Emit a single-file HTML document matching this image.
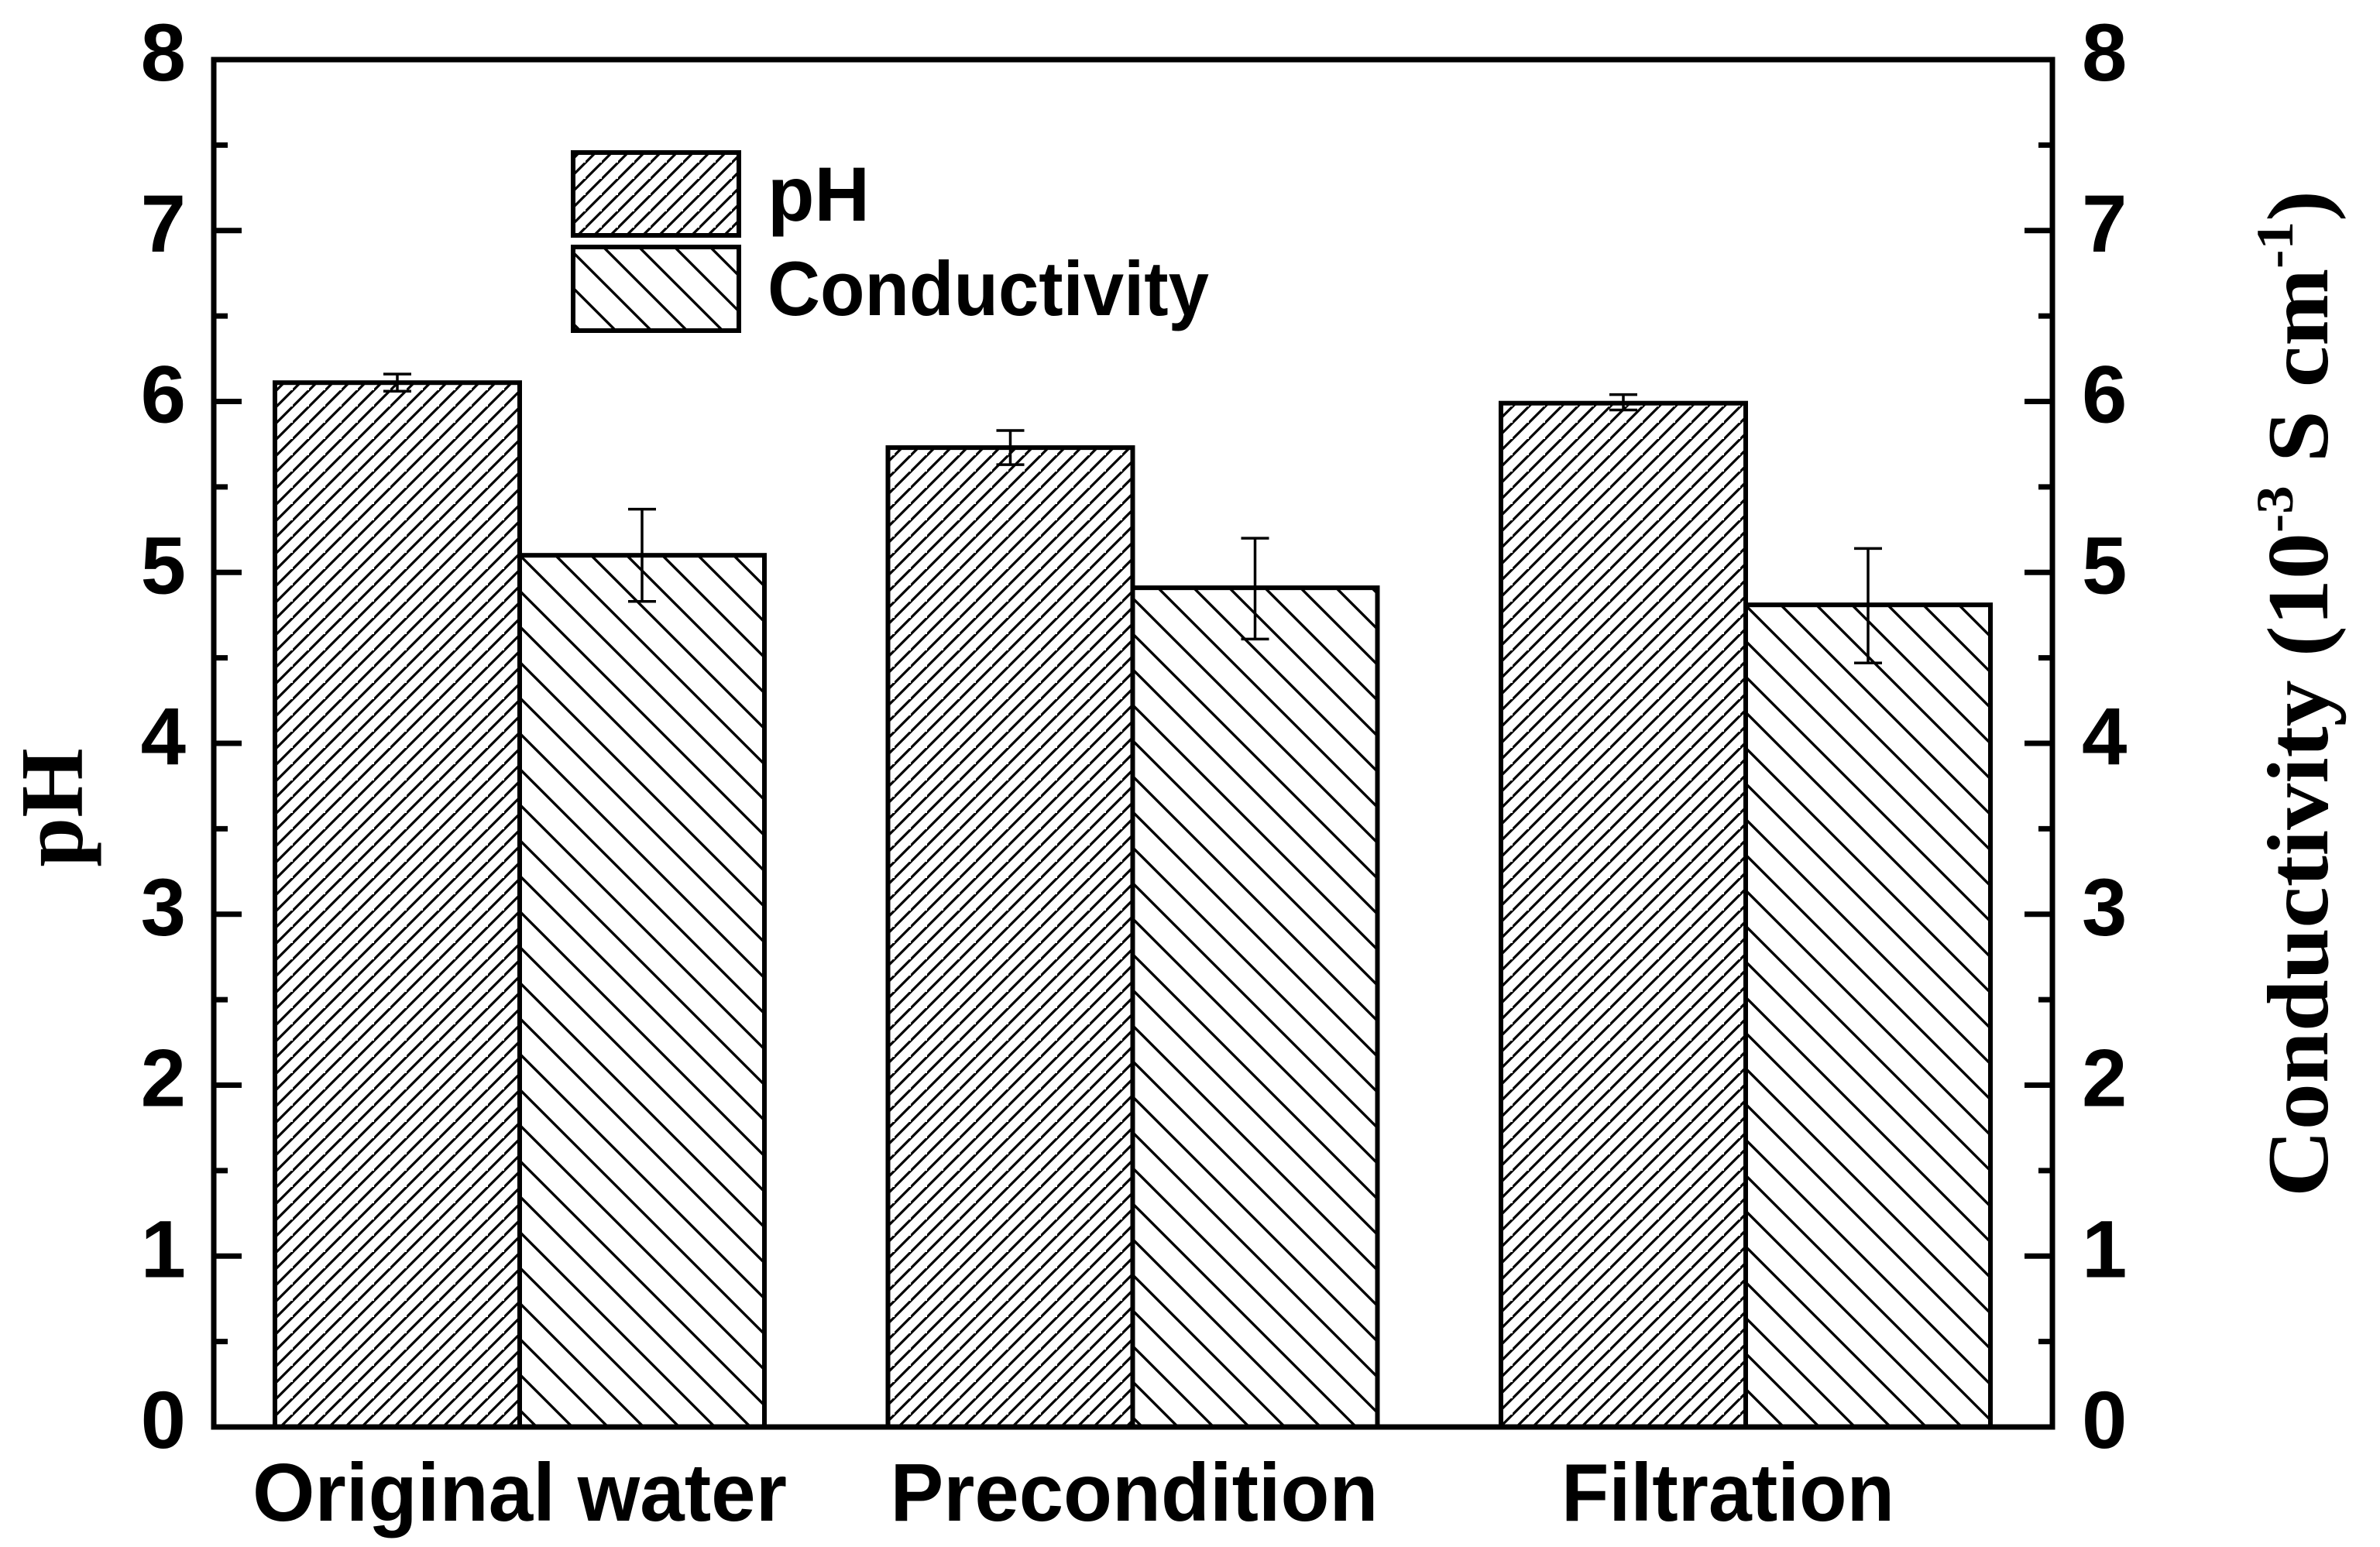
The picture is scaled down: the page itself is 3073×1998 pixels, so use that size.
<!DOCTYPE html>
<html><head><meta charset="utf-8"><style>
html,body{margin:0;padding:0;background:#fff;}
svg{display:block;}
</style></head><body>
<svg id="chart" width="3073" height="1998" viewBox="0 0 3073 1998" xmlns="http://www.w3.org/2000/svg">
<defs>
<pattern id="hatchPH" patternUnits="userSpaceOnUse" width="21" height="21">
<rect width="21" height="21" fill="#fff"/>
<path d="M-5,26 L26,-5 M-26,26 L5,-5 M16,47 L47,16" stroke="#000" stroke-width="3.2"/>
</pattern>
<pattern id="hatchCond" patternUnits="userSpaceOnUse" width="46" height="46">
<rect width="46" height="46" fill="#fff"/>
<path d="M-5,-5 L51,51 M-51,-5 L5,51 M41,-5 L97,51 M-5,41 L5,51 M41,-51 L97,5" stroke="#000" stroke-width="3.4"/>
</pattern>
</defs>
<g id="plot"></g>
</svg>
<script>
const categories = ["Original water", "Precondition", "Filtration"];
const phValues = [6.11, 5.73, 5.99];
const phErrLow = [6.06, 5.63, 5.95];
const phErrHigh = [6.16, 5.83, 6.04];
const condValues = [5.10, 4.91, 4.81];
const condErrLow = [4.83, 4.61, 4.47];
const condErrHigh = [5.37, 5.20, 5.14];
const yTicks = [0, 1, 2, 3, 4, 5, 6, 7, 8];

const NS = "http://www.w3.org/2000/svg";
const g = document.getElementById("plot");
const L = 276, R = 2650, T = 77, B = 1843;
const yMin = 0, yMax = 8;
function y(v){ return B - (v - yMin) / (yMax - yMin) * (B - T); }
const firstCenter = 671, catStep = 791.5, barW = 316;
function xc(i){ return firstCenter + i * catStep; }
const labelW = [690, 630, 430];
const labelShift = [0, 2, -23];
function mk(tag, attrs, parent){
  const e = document.createElementNS(NS, tag);
  for (const k in attrs) e.setAttribute(k, attrs[k]);
  (parent || g).appendChild(e);
  return e;
}

categories.forEach((c, i) => {
  const cx = xc(i);
  const b1 = mk("rect", {x: cx - barW, y: y(phValues[i]), width: barW, height: y(0) - y(phValues[i]), fill: "url(#hatchPH)", stroke: "#000", "stroke-width": 6});
  
  
  const b2 = mk("rect", {x: cx, y: y(condValues[i]), width: barW, height: y(0) - y(condValues[i]), fill: "url(#hatchCond)", stroke: "#000", "stroke-width": 6});
  
  
  [[cx - barW/2, phErrLow[i], phErrHigh[i], 'ph'], [cx + barW/2, condErrLow[i], condErrHigh[i], 'conductivity']].forEach(([ex, lo, hi, nm]) => {
    const eg = mk("g", {stroke: "#000", "stroke-width": 3.5});
    
    
    mk("line", {x1: ex, x2: ex, y1: y(lo), y2: y(hi)}, eg);
    mk("line", {x1: ex - 18, x2: ex + 18, y1: y(lo), y2: y(lo)}, eg);
    mk("line", {x1: ex - 18, x2: ex + 18, y1: y(hi), y2: y(hi)}, eg);
  });
  const t = mk("text", {x: cx + labelShift[i], y: 1964, "text-anchor": "middle", "font-family": "Liberation Sans, Arial, sans-serif", "font-weight": "bold", "font-size": 106, textLength: labelW[i], lengthAdjust: "spacingAndGlyphs"});
  t.textContent = c;
  
  
});

const frame = mk("rect", {x: L, y: T, width: R - L, height: B - T, fill: "none", stroke: "#000", "stroke-width": 7});



yTicks.forEach(v => {
  mk("line", {x1: L, x2: L + 36, y1: y(v), y2: y(v), stroke: "#000", "stroke-width": 7});
  mk("line", {x1: R, x2: R - 36, y1: y(v), y2: y(v), stroke: "#000", "stroke-width": 7});
  if (v < 8) {
    mk("line", {x1: L, x2: L + 18, y1: y(v + 0.5), y2: y(v + 0.5), stroke: "#000", "stroke-width": 7});
    mk("line", {x1: R, x2: R - 18, y1: y(v + 0.5), y2: y(v + 0.5), stroke: "#000", "stroke-width": 7});
  }
  const tl = mk("text", {x: 240, y: y(v) + 27, "text-anchor": "end", "font-family": "Liberation Sans, Arial, sans-serif", "font-weight": "bold", "font-size": 105});
  tl.textContent = v;
  
  
  const tr = mk("text", {x: 2688, y: y(v) + 27, "text-anchor": "start", "font-family": "Liberation Sans, Arial, sans-serif", "font-weight": "bold", "font-size": 105});
  tr.textContent = v;
  
  
});

const yl = mk("text", {x: 0, y: 0, transform: "translate(106,1043) rotate(-90)", "text-anchor": "middle", "font-family": "Liberation Serif, Times New Roman, serif", "font-weight": "bold", "font-size": 115});
yl.textContent = "pH";



const yr = mk("text", {x: 0, y: 0, transform: "translate(3005,896) rotate(-90)", "text-anchor": "middle", "font-family": "Liberation Serif, Times New Roman, serif", "font-weight": "bold", "font-size": 112, textLength: 1300, lengthAdjust: "spacingAndGlyphs"});
yr.innerHTML = 'Conductivity (10<tspan dy="-45" font-size="68">-3</tspan><tspan dy="45"> S cm</tspan><tspan dy="-45" font-size="68">-1</tspan><tspan dy="45">)</tspan>';



const lg = mk("g", {});


const l1 = mk("rect", {x: 740, y: 197, width: 214, height: 107, fill: "url(#hatchPH)", stroke: "#000", "stroke-width": 6}, lg);


const l2 = mk("rect", {x: 740, y: 319, width: 214, height: 108, fill: "url(#hatchCond)", stroke: "#000", "stroke-width": 6}, lg);


const lt1 = mk("text", {x: 991, y: 285, "font-family": "Liberation Sans, Arial, sans-serif", "font-weight": "bold", "font-size": 99}, lg);
lt1.textContent = "pH";


const lt2 = mk("text", {x: 991, y: 407, "font-family": "Liberation Sans, Arial, sans-serif", "font-weight": "bold", "font-size": 99, textLength: 570, lengthAdjust: "spacingAndGlyphs"}, lg);
lt2.textContent = "Conductivity";


</script>
</body></html>
